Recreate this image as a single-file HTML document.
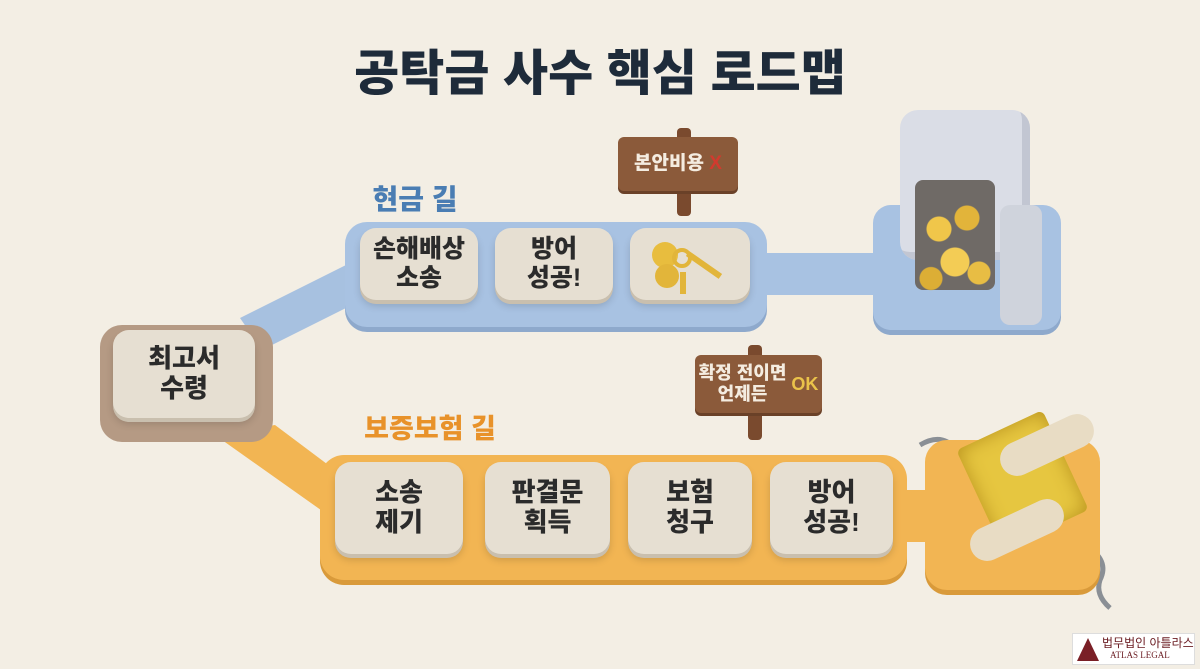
<!DOCTYPE html>
<html><head><meta charset="utf-8"><style>
body{margin:0;width:1200px;height:669px;overflow:hidden;background:#f3eee4;font-family:"Liberation Sans","Noto Sans CJK KR",sans-serif;position:relative}
div{position:absolute;box-sizing:border-box}
.t{font-weight:900;color:#2b2b2b;display:flex;align-items:center;justify-content:center;text-align:center;line-height:1.15}
.tile{background:#e6dfd2;border-radius:16px;box-shadow:0 4px 0 #c9bfae,0 6px 8px rgba(0,0,0,.15);font-size:25px}
.board{background:#8b5a3a;border-radius:6px;color:#f4ece0;font-weight:900;box-shadow:0 3px 0 #6a4128}
.post{background:#7a4a2e;border-radius:4px}
</style></head><body>
<div class="t" style="left:300px;top:42px;width:600px;height:64px;font-size:49px;color:#1e2b3a">공탁금 사수 핵심 로드맵</div>

<svg style="position:absolute;left:0;top:0" width="1200" height="669">
<polygon points="240,318 352,262 352,305 262,350" fill="#a7c1e0"/>
<polygon points="215,435 275,425 335,470 335,520" fill="#f2b553"/>
<path d="M920 445 Q945 430 960 455" stroke="#8a8f95" stroke-width="5" fill="none"/>
<path d="M1085 545 Q1110 560 1100 580 Q1095 595 1110 608" stroke="#8a8f95" stroke-width="5" fill="none"/>
</svg>

<div class="t" style="left:355px;top:180px;width:120px;height:40px;font-size:28px;color:#4a7db3">현금 길</div>
<div style="left:345px;top:222px;width:422px;height:105px;background:#a8c2e2;border-radius:22px;box-shadow:0 5px 0 #8ea9cc"></div>
<div style="left:760px;top:253px;width:125px;height:42px;background:#a8c2e2;border-radius:4px"></div>
<div style="left:873px;top:205px;width:188px;height:125px;background:#a8c2e2;border-radius:18px;box-shadow:0 5px 0 #8ea9cc"></div>
<div style="left:900px;top:110px;width:130px;height:150px;background:#dadde6;border-radius:18px;box-shadow:inset -8px -8px 0 #c2c6d2"></div>
<div style="left:915px;top:180px;width:80px;height:110px;background:#6f6a66;border-radius:8px"></div>
<div style="left:1000px;top:205px;width:42px;height:120px;background:#cfd3dc;border-radius:10px"></div>
<div style="left:915px;top:185px;width:80px;height:110px;background:radial-gradient(circle at 30% 40%,#f0c64a 0 12px,transparent 13px),radial-gradient(circle at 65% 30%,#e2b43a 0 12px,transparent 13px),radial-gradient(circle at 50% 70%,#f3cc55 0 14px,transparent 15px),radial-gradient(circle at 20% 85%,#dcae35 0 11px,transparent 12px),radial-gradient(circle at 80% 80%,#e8bd44 0 11px,transparent 12px)"></div>

<div class="t tile" style="left:360px;top:228px;width:118px;height:72px">손해배상<br>소송</div>
<div class="t tile" style="left:495px;top:228px;width:118px;height:72px">방어<br>성공!</div>
<div class="t tile" style="left:630px;top:228px;width:120px;height:72px"></div>
<div style="left:652px;top:242px;width:26px;height:26px;border-radius:50%;background:#e8bd3e"></div>
<div style="left:655px;top:264px;width:24px;height:24px;border-radius:50%;background:#e2b53a"></div>
<div style="left:672px;top:248px;width:20px;height:20px;border-radius:50%;border:4px solid #e2b53a"></div>
<div style="left:684px;top:262px;width:40px;height:6px;background:#e2b53a;transform:rotate(35deg)"></div>
<div style="left:680px;top:272px;width:6px;height:22px;background:#e2b53a"></div>

<div class="post" style="left:677px;top:128px;width:14px;height:88px"></div>
<div class="t board" style="left:618px;top:137px;width:120px;height:54px;font-size:19px;color:#f4ece0">본안비용&nbsp;<span style="color:#d23a2e">X</span></div>

<div style="left:100px;top:325px;width:173px;height:117px;background:#b59a84;border-radius:22px"></div>
<div class="t tile" style="left:113px;top:330px;width:142px;height:88px;font-size:26px">최고서<br>수령</div>

<div class="t" style="left:350px;top:410px;width:160px;height:40px;font-size:27px;color:#e8922a">보증보험 길</div>
<div style="left:320px;top:455px;width:587px;height:125px;background:#f2b553;border-radius:24px;box-shadow:0 5px 0 #d99a3a"></div>
<div style="left:900px;top:490px;width:40px;height:52px;background:#f2b553"></div>
<div style="left:925px;top:440px;width:175px;height:150px;background:#f2b553;border-radius:22px;box-shadow:0 5px 0 #d99a3a"></div>
<div style="left:975px;top:425px;width:95px;height:110px;background:#e6c640;transform:rotate(-25deg);border-radius:6px;box-shadow:inset 0 0 18px #b8921e"></div>
<div style="left:1030px;top:395px;width:34px;height:100px;background:#e8dcc4;border-radius:17px;transform:rotate(65deg)"></div>
<div style="left:1000px;top:480px;width:34px;height:100px;background:#e8dcc4;border-radius:17px;transform:rotate(65deg)"></div>

<div class="t tile" style="left:335px;top:462px;width:128px;height:92px;font-size:26px">소송<br>제기</div>
<div class="t tile" style="left:485px;top:462px;width:125px;height:92px;font-size:26px">판결문<br>획득</div>
<div class="t tile" style="left:628px;top:462px;width:124px;height:92px;font-size:26px">보험<br>청구</div>
<div class="t tile" style="left:770px;top:462px;width:123px;height:92px;font-size:26px">방어<br>성공!</div>

<div class="post" style="left:748px;top:345px;width:14px;height:95px"></div>
<div class="t board" style="left:695px;top:355px;width:127px;height:58px;font-size:18px;color:#f4ece0">확정 전이면<br>언제든 <span style="color:#eac24a">&nbsp;OK</span></div>

<div style="left:1072px;top:633px;width:123px;height:32px;background:#fff;border:1px solid #ddd"></div>
<svg style="position:absolute;left:1076px;top:636px" width="24" height="26"><polygon points="12,2 23,25 1,25" fill="#7a1f26"/></svg>
<div style="left:1102px;top:634px;font-size:12px;color:#6b1c22;white-space:nowrap">법무법인 아틀라스</div>
<div style="left:1110px;top:650px;font-size:9px;color:#6b1c22;font-family:'Liberation Serif',serif;white-space:nowrap">ATLAS LEGAL</div>
</body></html>
